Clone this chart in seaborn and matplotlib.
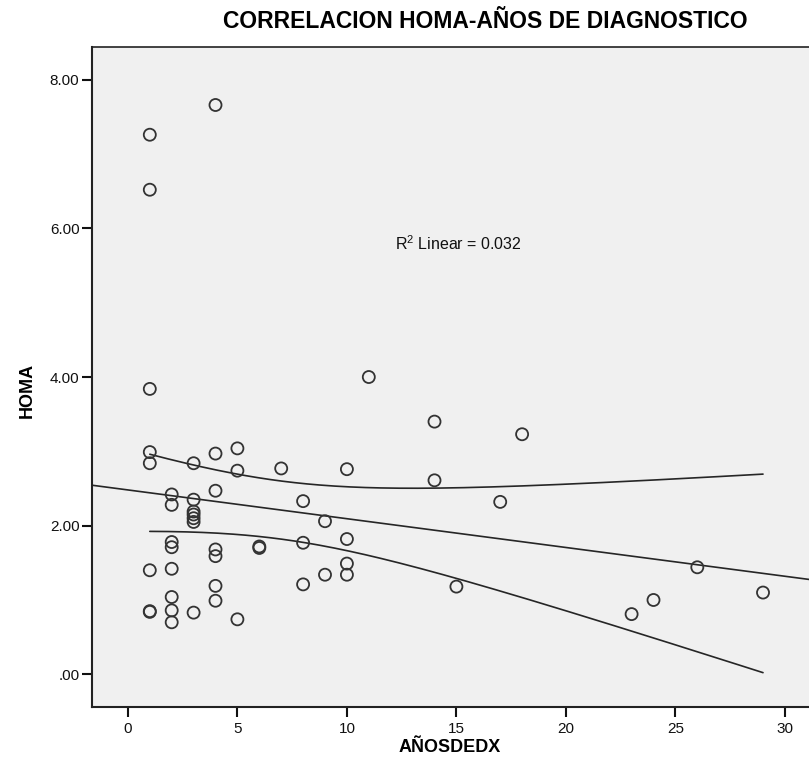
import numpy as np
import pandas as pd
import matplotlib
matplotlib.use("Agg")
import matplotlib.pyplot as plt
import seaborn as sns

# Data
anos = [1, 1, 1, 1, 1, 1, 1, 1,
        2, 2, 2, 2, 2, 2, 2, 2,
        3, 3, 3, 3, 3, 3, 3,
        4, 4, 4, 4, 4, 4, 4,
        5, 5, 5,
        6, 6,
        7,
        8, 8, 8,
        9, 9,
        10, 10, 10, 10,
        11,
        14, 14,
        15, 17, 18, 23, 24, 26, 29]
homa = [7.26, 6.52, 3.84, 2.99, 2.84, 1.40, 0.85, 0.84,
        2.42, 2.28, 1.78, 1.71, 1.42, 1.04, 0.86, 0.70,
        2.84, 2.35, 2.19, 2.15, 2.10, 2.05, 0.83,
        7.66, 2.97, 2.47, 1.68, 1.59, 1.19, 0.99,
        3.04, 2.74, 0.74,
        1.72, 1.70,
        2.77,
        2.33, 1.77, 1.21,
        2.06, 1.34,
        2.76, 1.82, 1.49, 1.34,
        4.00,
        3.40, 2.61,
        1.18, 2.32, 3.23, 0.81, 1.00, 1.44, 1.10]
x_ticks = [0, 5, 10, 15, 20, 25, 30]
y_ticks = [0.0, 2.0, 4.0, 6.0, 8.0]
y_tick_labels = [".00", "2.00", "4.00", "6.00", "8.00"]
r2_label = "R$^2$ Linear = 0.032"
title = "CORRELACION HOMA-AÑOS DE DIAGNOSTICO"
xlabel = "AÑOSDEDX"
ylabel = "HOMA"

df = pd.DataFrame({"AÑOSDEDX": anos, "HOMA": homa})

sns.set_style("white")
plt.rcParams["font.family"] = ["Liberation Sans", "DejaVu Sans"]
plt.rcParams["mathtext.fontset"] = "custom"
plt.rcParams["mathtext.rm"] = "Liberation Sans"
plt.rcParams["text.color"] = "#000000"

fig = plt.figure(figsize=(8.09, 7.76), dpi=100)
ax = fig.add_axes([0.1137, 0.0889, 0.8863, 0.8505])
ax.set_facecolor("#f0f0f0")

xlim = (-1.64, 31.1)
ylim = (-0.44, 8.44)

# Linear fit and 95% CI for the mean
x = np.asarray(anos, float)
y = np.asarray(homa, float)
n = len(x)
b1, b0 = np.polyfit(x, y, 1)
resid = y - (b0 + b1 * x)
s = np.sqrt(np.sum(resid ** 2) / (n - 2))
t_crit = 2.0057  # t(0.975, df=53)
xbar = x.mean()
sxx = np.sum((x - xbar) ** 2)

xl = np.linspace(xlim[0], xlim[1], 200)
ax.plot(xl, b0 + b1 * xl, color="#262626", lw=1.2, zorder=2)
xc = np.linspace(x.min(), x.max(), 200)
yc = b0 + b1 * xc
half = t_crit * s * np.sqrt(1.0 / n + (xc - xbar) ** 2 / sxx)
ax.plot(xc, yc + half, color="#262626", lw=1.2, zorder=2)
ax.plot(xc, yc - half, color="#262626", lw=1.2, zorder=2)

sns.scatterplot(data=df, x="AÑOSDEDX", y="HOMA", ax=ax, marker="o",
                s=75, facecolor="none", edgecolor="#333333", linewidth=1.3,
                zorder=3, legend=False)

ax.text(12.2, 5.79, r2_label, fontsize=11.5, ha="left", va="center", color="#111111")

ax.set_xlim(*xlim)
ax.set_ylim(*ylim)
ax.set_xticks(x_ticks)
ax.set_xticklabels([str(v) for v in x_ticks])
ax.set_yticks(y_ticks)
ax.set_yticklabels(y_tick_labels)
ax.tick_params(axis="both", direction="out", length=7, width=1.5, labelsize=11,
               colors="#111111", bottom=True, left=True)
ax.tick_params(axis="x", pad=4)
ax.tick_params(axis="y", pad=2)

ax.spines["right"].set_visible(False)
for side in ["left", "bottom"]:
    ax.spines[side].set_color("#222222")
    ax.spines[side].set_linewidth(1.5)
ax.spines["top"].set_color("#222222")
ax.spines["top"].set_linewidth(1.2)

ax.set_xlabel("")
ax.set_ylabel("")
fig.text(450 / 809, 1 - 748 / 776, xlabel, ha="center", va="center",
         fontsize=13, fontweight="bold", color="black")
fig.text(27 / 809, 1 - 390 / 776, ylabel, ha="center", va="center",
         fontsize=13, fontweight="bold", rotation=90, color="black")
fig.text(485 / 809, 1 - 21 / 776, title, ha="center", va="center",
         fontsize=16.5, fontweight="bold", color="black")

fig.savefig("out.png", dpi=100, facecolor="white")
